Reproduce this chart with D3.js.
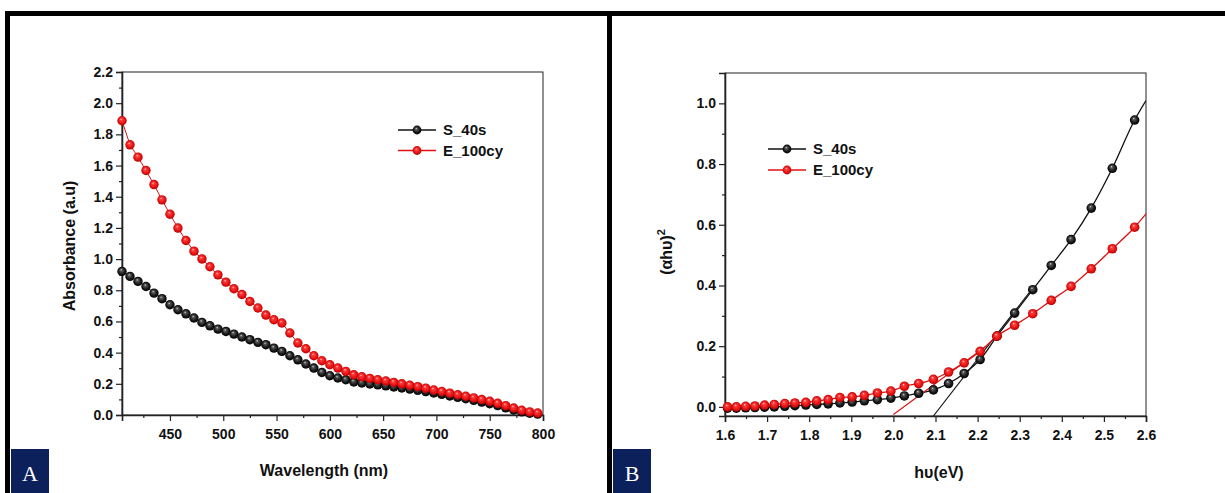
<!DOCTYPE html>
<html>
<head>
<meta charset="utf-8">
<script src="https://cdn.jsdelivr.net/npm/d3@7"></script>
<style>
  body { margin: 0; background: #fff; }
  svg { display: block; font-family: "Liberation Sans", Arial, sans-serif; }
  .tick text { font-weight: bold; font-size: 14px; fill: #111; }
  .axis path, .axis line { stroke: #222; }
  .axis-title { font-weight: bold; font-size: 16px; fill: #111; }
  .legend-text { font-weight: bold; font-size: 15px; fill: #111; }
</style>
</head>
<body>
<div id="vis"></div>
<script>
// Panel A: absorbance spectra
var wavelength = [405, 412.5, 420, 427.5, 435, 442.5, 450, 457.5, 465, 472.5, 480, 487.5,
  495, 502.5, 510, 517.5, 525, 532.5, 540, 547.5, 555, 562.5, 570, 577.5, 585, 592.5,
  600, 607.5, 615, 622.5, 630, 637.5, 645, 652.5, 660, 667.5, 675, 682.5, 690, 697.5,
  705, 712.5, 720, 727.5, 735, 742.5, 750, 757.5, 765, 772.5, 780, 787.5, 795];
var absS40 = [0.921, 0.889, 0.857, 0.824, 0.782, 0.746, 0.707, 0.675, 0.649, 0.622, 0.594, 0.572,
  0.551, 0.536, 0.519, 0.500, 0.483, 0.466, 0.451, 0.429, 0.408, 0.380, 0.354, 0.327, 0.301, 0.273,
  0.252, 0.237, 0.226, 0.212, 0.205, 0.199, 0.193, 0.187, 0.180, 0.173, 0.166, 0.158, 0.150, 0.141,
  0.132, 0.122, 0.113, 0.104, 0.094, 0.083, 0.072, 0.060, 0.046, 0.032, 0.020, 0.011, 0.006];
var absE100 = [1.887, 1.733, 1.654, 1.568, 1.478, 1.380, 1.288, 1.199, 1.119, 1.051, 1.001, 0.951,
  0.899, 0.852, 0.810, 0.773, 0.728, 0.686, 0.641, 0.611, 0.590, 0.526, 0.462, 0.425, 0.380, 0.348,
  0.322, 0.301, 0.280, 0.258, 0.245, 0.235, 0.226, 0.218, 0.209, 0.200, 0.191, 0.182, 0.172, 0.160,
  0.151, 0.140, 0.130, 0.120, 0.110, 0.099, 0.088, 0.075, 0.060, 0.045, 0.030, 0.020, 0.013];
var wlTicks = [450, 500, 550, 600, 650, 700, 750, 800];
var wlMinor = [425, 475, 525, 575, 625, 675, 725, 775];
var absTicks = [0, 0.2, 0.4, 0.6, 0.8, 1.0, 1.2, 1.4, 1.6, 1.8, 2.0, 2.2];
var absMinor = [0.1, 0.3, 0.5, 0.7, 0.9, 1.1, 1.3, 1.5, 1.7, 1.9, 2.1];

// Panel B: Tauc plot
var energy = [1.606, 1.627, 1.649, 1.671, 1.694, 1.717, 1.742, 1.766, 1.792, 1.818, 1.845, 1.873,
  1.902, 1.931, 1.962, 1.994, 2.026, 2.060, 2.095, 2.131, 2.168, 2.206, 2.246, 2.288, 2.331, 2.375,
  2.422, 2.470, 2.520, 2.573];
var taucS40 = [-0.004, -0.004, -0.003, -0.002, -0.001, 0.000, 0.002, 0.004, 0.006, 0.008, 0.010, 0.013,
  0.016, 0.020, 0.024, 0.029, 0.036, 0.045, 0.056, 0.077, 0.110, 0.156, 0.233, 0.309, 0.386, 0.466,
  0.551, 0.655, 0.786, 0.945];
var taucE100 = [0.000, 0.000, 0.002, 0.003, 0.006, 0.008, 0.011, 0.013, 0.015, 0.020, 0.024, 0.031,
  0.033, 0.038, 0.046, 0.052, 0.068, 0.077, 0.091, 0.115, 0.145, 0.183, 0.233, 0.269, 0.307, 0.351,
  0.397, 0.455, 0.521, 0.592];
// where the smooth curves leave the frame
var edgeEnergy = 2.6;
var edgeS40 = 1.009;
var edgeE100 = 0.636;
// linear fits (band gap extrapolation)
var fitS40 = [[2.095, -0.03], [2.33, 0.39]];
var fitE100 = [[2.0, -0.025], [2.22, 0.20]];
var evTicks = [1.6, 1.7, 1.8, 1.9, 2.0, 2.1, 2.2, 2.3, 2.4, 2.5, 2.6];
var evMinor = [1.65, 1.75, 1.85, 1.95, 2.05, 2.15, 2.25, 2.35, 2.45, 2.55];
var taucTicks = [0, 0.2, 0.4, 0.6, 0.8, 1.0];
var taucMinor = [0.1, 0.3, 0.5, 0.7, 0.9];

var seriesNames = ['S_40s', 'E_100cy'];

var width = 1225;
var height = 493;
var red = '#e01010';
var black = '#111';

var svg = d3.select('#vis').append('svg')
  .attr('width', width)
  .attr('height', height);

// 3D ball gradients
var defs = svg.append('defs');
function ballGradient(id, stops) {
  var grad = defs.append('radialGradient')
    .attr('id', id)
    .attr('cx', '50%').attr('cy', '50%').attr('r', '55%')
    .attr('fx', '40%').attr('fy', '32%');
  stops.forEach(function (s) {
    grad.append('stop').attr('offset', s[0]).attr('stop-color', s[1]);
  });
}
ballGradient('ballRed', [['0%', '#ffe4e4'], ['20%', '#ff4040'], ['72%', '#e00c0c'], ['100%', '#a00000']]);
ballGradient('ballBlack', [['0%', '#e0e0e0'], ['20%', '#5a5a5a'], ['65%', '#161616'], ['100%', '#000']]);

// Outer frame
svg.append('rect').attr('x', 5).attr('y', 11).attr('width', width - 5).attr('height', 5).attr('fill', '#000');
svg.append('rect').attr('x', 5).attr('y', 11).attr('width', 5).attr('height', height - 11).attr('fill', '#000');
svg.append('rect').attr('x', 607).attr('y', 11).attr('width', 5).attr('height', height - 11).attr('fill', '#000');

// Panel letters
function panelLetter(x, letter) {
  svg.append('rect')
    .attr('x', x).attr('y', 449).attr('width', 38).attr('height', 44)
    .attr('fill', '#0c205c');
  svg.append('text')
    .attr('x', x + 19).attr('y', 481)
    .attr('text-anchor', 'middle')
    .style('font-family', '"Liberation Serif", "DejaVu Serif", serif')
    .style('font-size', '22px')
    .attr('fill', '#fff')
    .text(letter);
}
panelLetter(11, 'A');
panelLetter(613, 'B');

// Shared axis drawing for a panel
function drawAxes(p) {
  var g = p.g;
  g.append('rect')
    .attr('x', 0).attr('y', 0)
    .attr('width', p.w).attr('height', p.h)
    .attr('fill', 'none').attr('stroke', '#222').attr('stroke-width', 1);

  var xAxis = d3.axisBottom(p.x).tickValues(p.xTicks).tickSize(6).tickPadding(8)
    .tickFormat(p.xFormat);
  var xMinor = d3.axisBottom(p.x).tickValues(p.xMinor).tickSize(3).tickFormat('');
  var yAxis = d3.axisLeft(p.y).tickValues(p.yTicks).tickSize(6).tickPadding(3)
    .tickFormat(d3.format('.1f'));
  var yMinor = d3.axisLeft(p.y).tickValues(p.yMinor).tickSize(3).tickFormat('');

  g.append('g').attr('class', 'x axis')
    .attr('transform', 'translate(0,' + p.h + ')')
    .call(xAxis);
  g.append('g').attr('class', 'x axis minor')
    .attr('transform', 'translate(0,' + p.h + ')')
    .call(xMinor);
  g.append('g').attr('class', 'y axis').call(yAxis);
  g.append('g').attr('class', 'y axis minor').call(yMinor);

  g.selectAll('.axis path.domain').attr('stroke-width', 1.6);
  g.selectAll('.axis line').attr('stroke-width', 1.2);
  g.selectAll('.minor path.domain').remove();
}

function drawBalls(g, pts, fill, r) {
  g.selectAll(null).data(pts).enter()
    .append('circle')
    .attr('cx', function (d) { return d[0]; })
    .attr('cy', function (d) { return d[1]; })
    .attr('r', r)
    .attr('fill', fill);
}

function drawLegend(g, x0, y0, gap) {
  var colors = [black, red];
  var fills = ['url(#ballBlack)', 'url(#ballRed)'];
  seriesNames.forEach(function (name, i) {
    var y = y0 + i * gap;
    g.append('line')
      .attr('x1', x0).attr('x2', x0 + 38)
      .attr('y1', y).attr('y2', y)
      .attr('stroke', colors[i]).attr('stroke-width', 1.5);
    g.append('circle')
      .attr('cx', x0 + 19).attr('cy', y).attr('r', 4.4)
      .attr('fill', fills[i]);
    g.append('text')
      .attr('class', 'legend-text')
      .attr('x', x0 + 45).attr('y', y + 5)
      .text(name);
  });
}

// ---- Panel A ----
var pA = { left: 122, top: 72, w: 421, h: 343 };
pA.g = svg.append('g').attr('transform', 'translate(' + pA.left + ',' + pA.top + ')');
pA.x = d3.scaleLinear().domain([405, 800]).range([0, pA.w]);
pA.y = d3.scaleLinear().domain([0, 2.2]).range([pA.h, 0]);
pA.xTicks = wlTicks; pA.xMinor = wlMinor; pA.xFormat = d3.format('d');
pA.yTicks = absTicks; pA.yMinor = absMinor;
drawAxes(pA);

var lineA = d3.line()
  .x(function (d) { return pA.x(d[0]); })
  .y(function (d) { return pA.y(d[1]); });
var dataA = [
  { v: absS40, color: black, fill: 'url(#ballBlack)' },
  { v: absE100, color: red, fill: 'url(#ballRed)' }
];
dataA.forEach(function (s) {
  var pts = wavelength.map(function (w, i) { return [w, s.v[i]]; });
  pA.g.append('path')
    .attr('d', lineA(pts))
    .attr('fill', 'none').attr('stroke', s.color).attr('stroke-width', 1);
  drawBalls(pA.g, pts.map(function (d) { return [pA.x(d[0]), pA.y(d[1])]; }), s.fill, 4.7);
});
drawLegend(pA.g, 398 - pA.left, 130 - pA.top, 20.5);

svg.append('text')
  .attr('class', 'axis-title')
  .attr('x', 324).attr('y', 476)
  .attr('text-anchor', 'middle')
  .text('Wavelength (nm)');
svg.append('text')
  .attr('class', 'axis-title')
  .attr('transform', 'translate(75,246) rotate(-90)')
  .attr('text-anchor', 'middle')
  .text('Absorbance (a.u)');

// ---- Panel B ----
var pB = { left: 725, top: 73, w: 421, h: 343 };
pB.g = svg.append('g').attr('transform', 'translate(' + pB.left + ',' + pB.top + ')');
pB.x = d3.scaleLinear().domain([1.6, 2.6]).range([0, pB.w]);
pB.y = d3.scaleLinear().domain([-0.03, 1.1]).range([pB.h, 0]);
pB.xTicks = evTicks; pB.xMinor = evMinor; pB.xFormat = d3.format('.1f');
pB.yTicks = taucTicks; pB.yMinor = taucMinor;
drawAxes(pB);

pB.g.append('clipPath').attr('id', 'clipB')
  .append('rect').attr('width', pB.w).attr('height', pB.h);

var lineB = d3.line()
  .x(function (d) { return pB.x(d[0]); })
  .y(function (d) { return pB.y(d[1]); });
var curveB = d3.line()
  .curve(d3.curveMonotoneX)
  .x(function (d) { return pB.x(d[0]); })
  .y(function (d) { return pB.y(d[1]); });

var dataB = [
  { v: taucS40, edge: edgeS40, fit: fitS40, color: black, fill: 'url(#ballBlack)' },
  { v: taucE100, edge: edgeE100, fit: fitE100, color: red, fill: 'url(#ballRed)' }
];
var plotB = pB.g.append('g').attr('clip-path', 'url(#clipB)');
dataB.forEach(function (s) {
  var pts = energy.map(function (e, i) { return [e, s.v[i]]; });
  plotB.append('path')
    .attr('d', curveB(pts.concat([[edgeEnergy, s.edge]])))
    .attr('fill', 'none').attr('stroke', s.color).attr('stroke-width', 1.3);
  plotB.append('path')
    .attr('d', lineB(s.fit))
    .attr('fill', 'none').attr('stroke', s.color).attr('stroke-width', 1.1);
});
dataB.forEach(function (s) {
  var pts = energy.map(function (e, i) { return [pB.x(e), pB.y(s.v[i])]; });
  drawBalls(pB.g, pts, s.fill, 4.8);
});
drawLegend(pB.g, 768 - pB.left, 149 - pB.top, 21);

svg.append('text')
  .attr('class', 'axis-title')
  .attr('x', 939).attr('y', 478)
  .attr('text-anchor', 'middle')
  .text('h\u03c5(eV)');
var yTitleB = svg.append('text')
  .attr('class', 'axis-title')
  .attr('transform', 'translate(672,252) rotate(-90)')
  .attr('text-anchor', 'middle');
yTitleB.append('tspan').text('(\u03b1h\u03c5)');
yTitleB.append('tspan').attr('dy', -7).style('font-size', '11px').text('2');
</script>
</body>
</html>
